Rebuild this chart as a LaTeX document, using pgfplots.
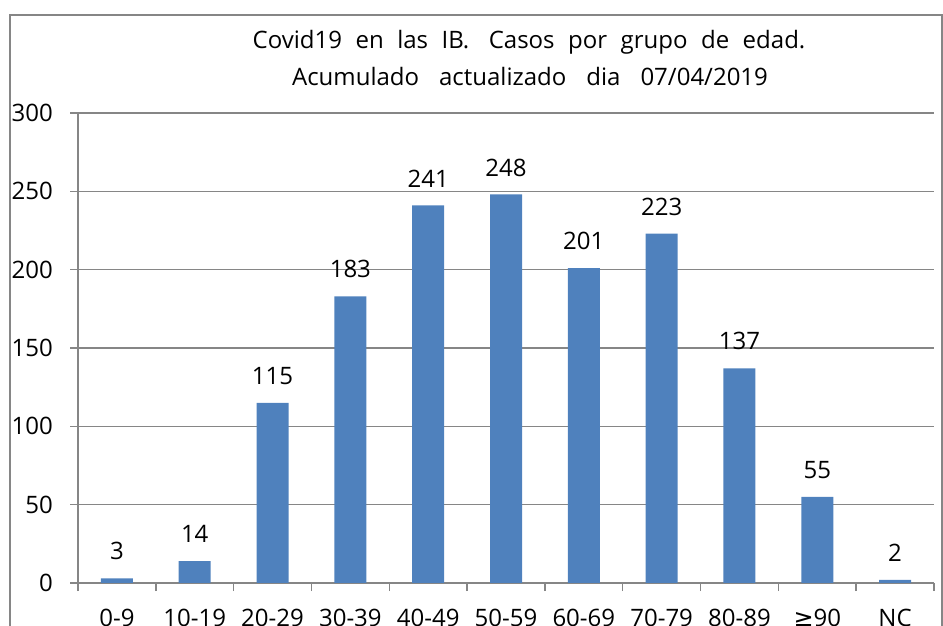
\documentclass[border=0pt]{standalone}
\usepackage{pgfplots}
\pgfplotsset{compat=1.18}
\usepackage{fontspec}
\setmainfont{Open Sans}
\newfontfamily\dejavu{DejaVu Sans}
\definecolor{barblue}{RGB}{79,129,189}
\definecolor{axgray}{RGB}{134,134,134}
\begin{document}
\begin{tikzpicture}[font=\fontsize{24bp}{29bp}\selectfont]
\path[use as bounding box] (0,0) rectangle (943bp,626bp);
\clip (0,0) rectangle (943bp,626bp);
\draw[axgray, line width=2bp] (10bp,-10bp) -- (10bp,611bp) -- (942bp,611bp) -- (942bp,-10bp);
\node at (529bp,584bp) {\spaceskip=13.5bp Covid19 en las IB.\hspace{6bp} Casos por grupo de edad.};
\node at (530bp,549bp) {\spaceskip=20bp Acumulado actualizado dia 07/04/2019};
\begin{axis}[at={(78bp,43bp)}, anchor=south west, scale only axis,
  width=856bp, height=470bp,
  xmin=-0.5, xmax=10.5, ymin=0, ymax=300,
  ytick={0,50,...,300},
  ymajorgrids, grid style={axgray, line width=1.5bp},
  axis x line*=bottom, axis y line*=left,
  axis line style={axgray, line width=1.5bp, -},
  tick style={axgray, line width=1.5bp},
  tick align=outside, major tick length=8bp,
  xtick={-0.5,0.5,...,10.5}, x tick label as interval,
  xticklabels={0-9,10-19,20-29,30-39,40-49,50-59,60-69,70-79,80-89,{{\dejavu ≥}90},NC},
  xticklabel style={inner sep=0pt, anchor=north, yshift=-18bp},
  yticklabel style={inner sep=0pt, anchor=east, xshift=-17bp},
  /pgf/number format/assume math mode=true,
]
\addplot[ybar, bar width=32bp, fill=barblue, draw=none,
  nodes near coords,
  nodes near coords style={black, anchor=south, inner sep=0pt, yshift=18bp}]
  coordinates {(0,3) (1,14) (2,115) (3,183) (4,241) (5,248) (6,201) (7,223) (8,137) (9,55) (10,2)};
\end{axis}
\end{tikzpicture}
\end{document}
